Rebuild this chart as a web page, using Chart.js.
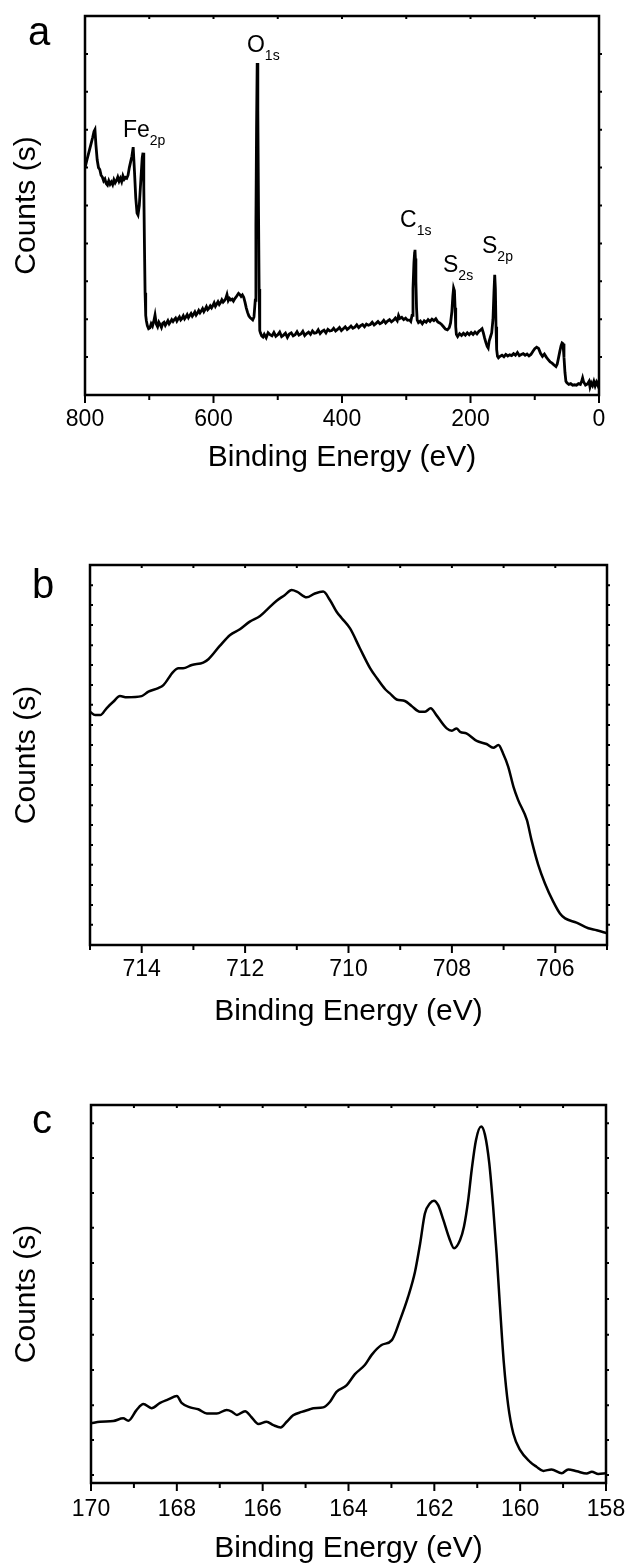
<!DOCTYPE html>
<html>
<head>
<meta charset="utf-8">
<script src="https://cdn.jsdelivr.net/npm/chart.js@4.4.1/dist/chart.umd.min.js"></script>
<style>
  body { margin: 0; background: #fff; }
  #wrap { position: relative; width: 632px; height: 1568px; }
  canvas { position: absolute; left: 0; }
</style>
</head>
<body>
<div id="wrap">
  <canvas id="chartA" width="632" height="490" style="top:0"></canvas>
  <canvas id="chartB" width="632" height="520" style="top:520px"></canvas>
  <canvas id="chartC" width="632" height="508" style="top:1060px"></canvas>
</div>
<script>
// ---- panel a: survey spectrum ----
const surveyBE = [
  800, 797, 794, 791, 788, 786, 784.5, 783, 781, 779,
  777, 775, 773, 771, 769, 767, 765, 763, 761, 759,
  757, 755, 753, 751, 749, 747, 745, 743, 741, 739,
  737, 735, 733, 731, 729, 727, 725, 723, 721, 719,
  717.5, 715.5, 713, 711, 709.7, 708.5, 707.5, 706.5, 705.5, 704.5,
  703, 701, 699, 697, 695, 693, 691, 689, 687, 685,
  683, 681, 679, 677, 675, 673, 671, 669, 667, 665,
  663, 661, 659, 657, 655, 653, 651, 649, 647, 645,
  643, 641, 639, 637, 635, 633, 631, 629, 627, 625,
  623, 621, 619, 617, 615, 613, 611, 609, 607, 605,
  603, 601, 599, 597, 595, 593, 591, 589, 587, 585,
  583, 581, 579, 577, 575, 573, 571, 569, 567, 565,
  563, 561, 559, 557, 555, 553, 551, 549, 547, 545,
  543, 541, 539, 537, 535, 534, 533, 532, 531, 530,
  529, 528, 527, 525, 523, 521, 518, 515, 512, 509,
  506, 503, 500, 497, 494, 491, 488, 485, 482, 479,
  476, 473, 470, 467, 464, 461, 458, 455, 452, 449,
  446, 443, 440, 437, 434, 431, 428, 425, 422, 419,
  416, 413, 410, 407, 404, 401, 398, 395, 392, 389,
  386, 383, 380, 377, 374, 371, 368, 365, 362, 359,
  356, 353, 350, 347, 344, 341, 338, 335, 332, 329,
  326, 323, 320, 317, 314, 312, 310, 307, 304, 301,
  298, 295, 293, 291, 289.5, 288, 287, 286.4, 285.8, 285,
  284, 283, 281, 278, 275, 272, 269, 266, 263, 260,
  257, 254, 251, 248, 245, 242, 239, 236, 233, 231,
  229, 227.5, 226.3, 225, 224, 223, 222, 220, 217, 214,
  211, 208, 205, 202, 199, 196, 193, 190, 187, 184,
  182, 180, 178, 176, 174, 172.5, 171, 169, 167, 165,
  163.5, 162.3, 161.3, 160.3, 159.3, 158, 156.5, 154, 151, 148,
  145, 142, 139, 136, 133, 130, 127, 124, 121, 118,
  115, 112, 109, 106, 103, 100, 97, 94, 91, 88,
  85, 82, 79, 76, 73, 70, 67, 65, 63, 61,
  59, 57.5, 56, 54.5, 53, 51.5, 50, 47, 44, 41,
  38, 35, 32, 29, 27, 25.5, 24, 21, 18, 15.5,
  14, 12, 10, 8, 6, 4, 2, 1, 0
];
const surveyCounts = [
  59.9, 62, 64, 66, 68, 69.5, 70, 66, 62, 60,
  59.5, 58, 57.5, 56.5, 57, 55.8, 55.4, 56.5, 55.6, 56.2,
  55.5, 56.8, 56, 56.6, 57.5, 56.4, 57.2, 56.3, 57.8, 56.9,
  57.4, 57.2, 58, 60, 61.5, 63, 65.4, 59, 52, 48,
  47.5, 50, 57, 62.5, 63.9, 55, 40, 27, 21, 19.6,
  18.3, 17.5, 17.7, 18.8, 18.2, 19.4, 21.1, 18.7, 18.0, 19.2,
  18.6, 17.8, 18.9, 19.2, 18.4, 19.0, 19.6, 18.8, 19.3, 19.9,
  19.4, 19.9, 20.3, 19.5, 20.1, 20.6, 19.8, 20.2, 20.9, 20.1,
  20.6, 21.2, 20.4, 21.0, 21.5, 20.8, 21.3, 21.9, 21.1, 21.6,
  22.3, 21.7, 22.2, 22.8, 22.0, 22.6, 23.3, 22.5, 22.9, 23.5,
  23.0, 23.6, 24.3, 23.4, 24.0, 24.6, 23.9, 24.4, 25.1, 24.5,
  24.9, 25.4, 26.5, 24.9, 25.5, 25.1, 25.3, 24.8, 25.4, 25.8,
  26.3, 26.8, 26.5, 26.0, 26.4, 25.8, 24.5, 23.0, 21.8, 20.9,
  20.4, 20.1, 19.8, 20.6, 25, 45, 70, 87.6, 75, 50,
  28, 17, 16.4, 15.6, 15.3, 16.0, 15.1, 16.4, 15.9, 15.6,
  16.5, 15.5, 15.9, 16.6, 15.4, 15.8, 16.3, 15.2, 16.1, 16.4,
  15.6, 15.9, 16.7, 15.8, 16.1, 16.8, 15.7, 16.2, 16.6, 16.0,
  16.9, 16.3, 16.4, 17.2, 16.2, 16.8, 17.1, 16.4, 17.3, 16.9,
  17.0, 17.6, 16.9, 17.3, 17.8, 17.0, 17.5, 18.0, 17.3, 17.7,
  18.2, 17.6, 17.9, 18.5, 17.8, 18.3, 18.6, 18.0, 18.7, 18.4,
  18.6, 19.2, 18.5, 18.9, 19.4, 18.8, 19.1, 19.7, 19.0, 19.5,
  19.9, 19.3, 19.7, 20.3, 19.6, 21.0, 20.2, 20.5, 19.9, 20.3,
  19.7, 19.8, 19.4, 21, 28, 35, 37.5, 38.3, 36, 30,
  23, 19.8, 19.1, 19.5, 18.8, 19.6, 19.2, 19.9, 19.4, 20.0,
  19.6, 20.1, 19.3, 19.0, 18.6, 18.0, 17.4, 17.2, 17.8, 19,
  22, 26, 28.2, 27.5, 23, 18, 16, 15.4, 16.2, 15.7,
  16.3, 15.8, 16.4, 15.9, 16.5, 16.0, 16.6, 16.1, 16.8, 17.2,
  17.5, 16.4, 15.0, 13.8, 12.8, 12.4, 14.2, 15.3, 16.4, 20,
  27, 31.7, 28, 18, 12, 10.2, 9.8, 10.2, 10.5, 10.1,
  10.7, 10.3, 10.6, 10.4, 10.9, 10.5, 11.2, 10.4, 10.7, 10.9,
  10.5, 10.8, 10.3, 10.7, 11.5, 12.2, 12.6, 12.3, 11.0, 10.2,
  10.8, 10.0, 9.3, 8.7, 8.4, 7.9, 7.5, 8.2, 9.8, 11.5,
  13.0, 13.7, 13.5, 10, 6, 3.6, 3.2, 2.8, 3.0, 2.6,
  2.7, 2.6, 3.0, 2.8, 3.6, 4.5, 3.5, 2.6, 2.9, 3.6,
  2.1, 3.2, 2.5, 3.6, 2.4, 3.4, 2.6, 3.2, 2.9
];
const surveyMajor = [800, 600, 400, 200, 0];
const surveyMinor = [700, 500, 300, 100];
const surveyYTicks = [10, 20, 30, 40, 50, 60, 70, 80, 90];

const peakNames = ['Fe', 'O', 'C', 'S', 'S'];
const peakSubs = ['2p', '1s', '1s', '2s', '2p'];
const peakLabelBE = [740.9, 547.9, 309.7, 242.8, 182.1];
const peakLabelY = [68.1, 90.5, 44.3, 32.5, 37.5];

// ---- panel b: Fe 2p ----
const feBE = [
  715.0, 714.9, 714.8, 714.68, 714.55, 714.42, 714.29, 714.0, 713.87, 713.68,
  713.58, 713.39, 713.29, 713.2, 713.03, 712.81, 712.71, 712.49, 712.29, 712.1,
  711.91, 711.71, 711.58, 711.39, 711.23, 711.1, 711.0, 710.81, 710.65, 710.49,
  710.36, 710.23, 710.13, 709.97, 709.78, 709.58, 709.45, 709.29, 709.2, 709.07,
  708.91, 708.78, 708.62, 708.52, 708.41, 708.3, 708.1, 708.0, 707.91, 707.84,
  707.72, 707.52, 707.33, 707.2, 707.1, 707.01, 706.91, 706.81, 706.72, 706.55,
  706.46, 706.33, 706.2, 706.04, 705.91, 705.81, 705.59, 705.36, 705.2, 705.0
];
const feCounts = [
  61.4, 60.5, 60.5, 62.3, 64.0, 65.5, 65.2, 65.5, 66.7, 67.6,
  68.4, 71.9, 72.8, 72.8, 73.7, 74.3, 75.2, 78.7, 81.6, 83.1,
  85.1, 86.6, 88.2, 90.6, 92.1, 93.4, 93.0, 91.5, 92.5, 93.0,
  90.8, 87.7, 86.0, 83.3, 78.1, 72.8, 70.2, 67.3, 66.2, 64.6,
  64.2, 62.9, 61.4, 61.4, 62.3, 60.5, 57.0, 56.4, 57.0, 56.1,
  55.7, 53.7, 52.9, 51.9, 52.6, 50.4, 46.9, 41.7, 38.2, 32.9,
  27.6, 21.1, 16.2, 11.4, 8.3, 7.0, 5.9, 4.4, 3.9, 3.1
];
const feMajor = [714, 712, 710, 708, 706];
const feMinor = [715, 713, 711, 709, 707, 705];
const feYTicks = [5.3, 10.5, 15.8, 21.1, 26.3, 31.6, 36.8, 42.1, 47.4, 52.6, 57.9, 63.2, 68.4, 73.7, 78.9, 84.2, 89.5, 94.7];

// ---- panel c: S 2p ----
const sBE = [
  170.0, 169.79, 169.48, 169.25, 169.13, 168.94, 168.78, 168.59, 168.39, 168.2,
  168.0, 167.89, 167.69, 167.5, 167.3, 167.07, 166.84, 166.72, 166.6, 166.41,
  166.26, 166.1, 165.91, 165.75, 165.58, 165.44, 165.29, 165.09, 164.9, 164.82,
  164.59, 164.43, 164.28, 164.04, 163.85, 163.62, 163.46, 163.23, 162.99, 162.8,
  162.61, 162.45, 162.33, 162.22, 162.1, 162.01, 161.91, 161.79, 161.65, 161.54,
  161.4, 161.31, 161.21, 161.13, 161.03, 160.91, 160.82, 160.72, 160.63, 160.55,
  160.47, 160.38, 160.28, 160.16, 160.0, 159.77, 159.62, 159.46, 159.27, 159.03,
  158.88, 158.68, 158.45, 158.33, 158.18, 158.0
];
const sCounts = [
  15.8, 16.2, 16.4, 17.1, 16.5, 19.3, 20.9, 19.8, 21.2, 22.1,
  23.0, 21.2, 20.0, 19.5, 18.4, 18.4, 19.3, 18.9, 18.0, 19.0,
  17.4, 15.6, 16.2, 15.3, 14.7, 16.2, 17.9, 18.8, 19.5, 19.8,
  20.0, 21.5, 24.1, 25.9, 28.8, 31.2, 33.9, 36.5, 37.8, 43.1,
  49.3, 55.9, 63.4, 71.3, 74.0, 74.7, 73.5, 69.6, 64.7, 62.1,
  64.3, 67.8, 74.9, 82.8, 90.7, 94.3, 92.1, 84.6, 73.1, 60.8,
  46.6, 31.7, 20.6, 13.1, 8.7, 5.6, 4.3, 3.2, 3.6, 2.6,
  3.6, 3.1, 2.5, 3.0, 2.4, 2.6
];
const sMajor = [170, 168, 166, 164, 162, 160, 158];
const sMinor = [169, 167, 165, 163, 161, 159];
const sYTicks = [2.1, 11.4, 20.6, 29.9, 39.2, 48.7, 58.2, 67.5, 76.7, 86.0, 95.2];

const FONT = '"Liberation Sans", Arial, sans-serif';

// box, tick marks, panel letter and peak names
const framePlugin = {
  id: 'frame',
  afterDraw(chart, args, o) {
    const { ctx, chartArea: a, scales: { x, y } } = chart;
    ctx.save();
    ctx.strokeStyle = '#000';
    ctx.lineWidth = 2.5;
    ctx.strokeRect(a.left, a.top, a.right - a.left, a.bottom - a.top);

    ctx.lineWidth = 2;
    ctx.beginPath();
    o.major.forEach(v => {
      const px = x.getPixelForValue(v);
      ctx.moveTo(px, a.bottom); ctx.lineTo(px, a.bottom + 8);
      ctx.moveTo(px, a.top); ctx.lineTo(px, a.top + 3);
    });
    o.minor.forEach(v => {
      const px = x.getPixelForValue(v);
      ctx.moveTo(px, a.bottom); ctx.lineTo(px, a.bottom + 5);
      ctx.moveTo(px, a.top); ctx.lineTo(px, a.top + 3);
    });
    o.yTicks.forEach(v => {
      const py = y.getPixelForValue(v);
      ctx.moveTo(a.left, py); ctx.lineTo(a.left + 3, py);
      ctx.moveTo(a.right, py); ctx.lineTo(a.right + 3, py);
    });
    ctx.stroke();

    ctx.fillStyle = '#000';
    ctx.textAlign = 'left';
    ctx.textBaseline = 'alphabetic';
    ctx.font = '40px ' + FONT;
    ctx.fillText(o.letter, o.letterX, o.letterY);

    (o.names || []).forEach((n, i) => {
      const px = x.getPixelForValue(o.labelBE[i]);
      const py = y.getPixelForValue(o.labelY[i]);
      ctx.font = '23px ' + FONT;
      ctx.fillText(n, px, py);
      const w = ctx.measureText(n).width;
      ctx.font = '14px ' + FONT;
      ctx.fillText(o.subs[i], px + w, py + 8);
    });
    ctx.restore();
  }
};

function makePanel(id, p) {
  return new Chart(document.getElementById(id), {
    type: 'line',
    data: {
      datasets: [{
        data: p.be.map((v, i) => ({ x: v, y: p.counts[i] })),
        borderColor: '#000',
        borderWidth: p.lw,
        pointRadius: 0,
        fill: false,
        cubicInterpolationMode: p.smooth ? 'monotone' : 'default',
        tension: 0
      }]
    },
    options: {
      responsive: false,
      animation: false,
      layout: { padding: { top: p.padTop, right: p.padRight, left: 0, bottom: 0 } },
      plugins: {
        legend: { display: false },
        tooltip: { enabled: false },
        frame: p.frame
      },
      scales: {
        x: {
          type: 'linear',
          reverse: true,
          min: p.xMin,
          max: p.xMax,
          grid: { display: false, drawTicks: false },
          border: { display: false },
          ticks: { color: '#000', font: { family: FONT, size: 23 }, padding: p.tickPad, autoSkip: false, maxRotation: 0 },
          afterBuildTicks: s => { s.ticks = p.frame.major.map(v => ({ value: v })); },
          afterFit: s => { s.height = p.xH; s.paddingLeft = 0; s.paddingRight = 0; },
          title: {
            display: true, text: 'Binding Energy (eV)', color: '#000',
            font: { family: FONT, size: 30 }, padding: { top: 0, bottom: p.titlePad }
          }
        },
        y: {
          min: 0,
          max: 100,
          grid: { display: false, drawTicks: false },
          border: { display: false },
          ticks: { display: false },
          afterFit: s => { s.width = p.yW; s.paddingTop = 0; s.paddingBottom = 0; },
          title: {
            display: true, text: 'Counts (s)', color: '#000',
            font: { family: FONT, size: 30 }, padding: { top: 9, bottom: 0 }
          }
        }
      }
    },
    plugins: [framePlugin]
  });
}

makePanel('chartA', {
  be: surveyBE, counts: surveyCounts, lw: 2.8, smooth: false,
  xMin: 0, xMax: 800, padTop: 16, padRight: 33, xH: 95, yW: 85, tickPad: 11, titlePad: 14,
  frame: {
    major: surveyMajor, minor: surveyMinor, yTicks: surveyYTicks,
    letter: 'a', letterX: 28, letterY: 45,
    names: peakNames, subs: peakSubs, labelBE: peakLabelBE, labelY: peakLabelY
  }
});

makePanel('chartB', {
  be: feBE, counts: feCounts, lw: 2.5, smooth: true,
  xMin: 705, xMax: 715, padTop: 45, padRight: 25, xH: 95, yW: 90, tickPad: 11, titlePad: 10,
  frame: { major: feMajor, minor: feMinor, yTicks: feYTicks, letter: 'b', letterX: 32, letterY: 78 }
});

makePanel('chartC', {
  be: sBE, counts: sCounts, lw: 2.5, smooth: true,
  xMin: 158, xMax: 170, padTop: 45, padRight: 26, xH: 85, yW: 91, tickPad: 13, titlePad: 1,
  frame: { major: sMajor, minor: sMinor, yTicks: sYTicks, letter: 'c', letterX: 32, letterY: 73 }
});
</script>
</body>
</html>
